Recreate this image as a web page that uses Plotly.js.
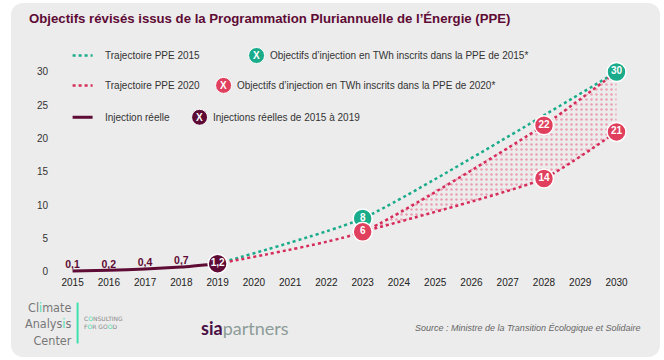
<!DOCTYPE html>
<html><head><meta charset="utf-8">
<script src="https://cdn.plot.ly/plotly-3.0.1.min.js"></script>
<style>
html,body{margin:0;padding:0;background:#fff;}
#card{position:absolute;left:11px;top:3px;width:649px;height:354px;background:#ececec;border-radius:12px;}
#chart{position:absolute;left:0;top:0;width:664px;height:360px;}
</style></head>
<body><div id="card"></div><div id="chart"></div>
<script>
// ---- data ----
const years = [2015,2016,2017,2018,2019,2020,2021,2022,2023,2024,2025,2026,2027,2028,2029,2030];
const realYears = [2015,2016,2017,2018,2019];
const realValues = [0.1,0.2,0.4,0.7,1.2];
const realLabels = ['0,1','0,2','0,4','0,7','1,2'];
const ppe2015Years = [2019,2023,2030];
const ppe2015Values = [1.2,8,30];
const ppe2015Labels = ['8','30'];
const ppe2020HighYears = [2019,2023,2028,2030];
const ppe2020HighValues = [1.2,6,22,30];
const ppe2020LowYears = [2023,2028,2030];
const ppe2020LowValues = [6,14,21];
const ppe2020Labels = ['6','22','14','21'];
const yTicks = [0,5,10,15,20,25,30];

const GREEN='#1aab8a', RED='#e0405e', REDLINE='#d62c5a', DARK='#5e0b35';
const FONT='Arial, sans-serif';

// plot area geometry (px)
const L=49.4, W=582.1, T=51.5, H=223.8;
const px=x=>(x-L)/W, py=y=>(T+H-y)/H;

const traces = [
  {x:ppe2020HighYears.slice(1), y:ppe2020HighValues.slice(1), mode:'lines', line:{width:0, shape:'spline', smoothing:0.5}, hoverinfo:'skip', showlegend:false},
  {x:ppe2020LowYears, y:ppe2020LowValues, mode:'lines', line:{width:0, shape:'spline', smoothing:0.5}, fill:'tonexty', fillcolor:'rgba(0,0,0,0)',
   fillpattern:{shape:'.', fgcolor:'#eba0b2', bgcolor:'rgba(0,0,0,0)', size:5, solidity:0.2}, hoverinfo:'skip', showlegend:false},
  {x:ppe2015Years, y:ppe2015Values, mode:'lines', line:{color:GREEN, width:2.5, dash:'dot', shape:'spline', smoothing:0.5}, showlegend:false},
  {x:ppe2020HighYears, y:ppe2020HighValues, mode:'lines', line:{color:REDLINE, width:2.5, dash:'dot', shape:'spline', smoothing:0.5}, showlegend:false},
  {x:ppe2020LowYears, y:ppe2020LowValues, mode:'lines', line:{color:REDLINE, width:2.5, dash:'dot', shape:'spline', smoothing:0.5}, showlegend:false},
  {x:realYears, y:realValues, mode:'lines+text', line:{color:DARK, width:3, shape:'spline', smoothing:0.5},
   text:realLabels.slice(0,4).concat(['']), textposition:'top center', textfont:{family:FONT, size:10.5, color:DARK, weight:'bold'}, showlegend:false},
  {x:[realYears[4]], y:[realValues[4]], mode:'markers+text', marker:{size:19, color:DARK, line:{color:'#fff', width:1.5}},
   text:[realLabels[4]], textposition:'middle center', textfont:{family:FONT, size:10, color:'#fff', weight:'bold'}, showlegend:false},
  {x:ppe2015Years.slice(1), y:ppe2015Values.slice(1), mode:'markers+text', marker:{size:19, color:GREEN, line:{color:'#fff', width:1.5}},
   text:ppe2015Labels, textposition:'middle center', textfont:{family:FONT, size:10, color:'#fff', weight:'bold'}, showlegend:false},
  {x:[ppe2020HighYears[1], ppe2020HighYears[2], ppe2020LowYears[1], ppe2020LowYears[2]],
   y:[ppe2020HighValues[1], ppe2020HighValues[2], ppe2020LowValues[1], ppe2020LowValues[2]], mode:'markers+text', marker:{size:19, color:RED, line:{color:'#fff', width:1.5}},
   text:ppe2020Labels, textposition:'middle center', textfont:{family:FONT, size:10, color:'#fff', weight:'bold'}, showlegend:false}
];

const shapes = [];
const annotations = [];
const legRows = [
  {y:55, dash:'dot', color:GREEN, label:'Trajectoire PPE 2015', cx:257, ccol:GREEN, ctext:'Objectifs d\u2019injection en TWh inscrits dans la PPE de 2015*'},
  {y:85, dash:'dot', color:REDLINE, label:'Trajectoire PPE 2020', cx:224, ccol:RED, ctext:'Objectifs d\u2019injection en TWh inscrits dans la PPE de 2020*'},
  {y:117, dash:'solid', color:DARK, label:'Injection r\u00e9elle', cx:200, ccol:DARK, ctext:'Injections r\u00e9elles de 2015 \u00e0 2019'}
];
legRows.forEach(r=>{
  shapes.push({type:'line', xref:'paper', yref:'paper', x0:px(73), x1:px(93), y0:py(r.y), y1:py(r.y), line:{color:r.color, width:r.dash==='dot'?2.5:3, dash:r.dash}});
  annotations.push({xref:'paper', yref:'paper', x:px(103), y:py(r.y), xanchor:'left', yanchor:'middle', showarrow:false, text:r.label, font:{family:FONT, size:10, color:'#333'}});
  shapes.push({type:'circle', xref:'paper', yref:'paper', xsizemode:'pixel', ysizemode:'pixel', xanchor:px(r.cx), yanchor:py(r.y), x0:-8, x1:8, y0:-8, y1:8, fillcolor:r.ccol, line:{color:'#fff', width:1}});
  annotations.push({xref:'paper', yref:'paper', x:px(r.cx), y:py(r.y), xanchor:'center', yanchor:'middle', showarrow:false, text:'<b>X</b>', font:{family:FONT, size:10, color:'#fff'}});
  annotations.push({xref:'paper', yref:'paper', x:px(r.cx+11), y:py(r.y), xanchor:'left', yanchor:'middle', showarrow:false, text:r.ctext, font:{family:FONT, size:10, color:'#333'}});
});
const NARROW='"DejaVu Sans Condensed", "Liberation Sans Narrow", Roboto, sans-serif';
annotations.push({xref:'paper', yref:'paper', x:px(73), y:py(324), xanchor:'right', yanchor:'middle', align:'right', showarrow:false, borderpad:0,
  text:'Cl<span style="color:#3fdcad">i</span>mate<br>Analys<span style="color:#3fdcad">i</span>s<br>Center', font:{family:NARROW, size:12.5, color:'#777'}});
shapes.push({type:'line', xref:'paper', yref:'paper', x0:px(78), x1:px(78), y0:py(303), y1:py(344), line:{color:'#3fe0b0', width:2}});
annotations.push({xref:'paper', yref:'paper', x:px(83), y:py(322.5), xanchor:'left', yanchor:'middle', align:'left', showarrow:false, borderpad:0,
  text:'C<span style="color:#3fdcad">O</span>NSULTING<br>F<span style="color:#3fdcad">O</span>R GO<span style="color:#3fdcad">O</span>D', font:{family:'DejaVu Sans, sans-serif', size:6, color:'#888'}});
annotations.push({xref:'paper', yref:'paper', x:px(199), y:py(328), xanchor:'left', yanchor:'middle', showarrow:false,
  text:'<b><span style="color:#4a1045">sia</span></b><span style="color:#8c9c98">partners</span>', font:{family:'Lato, sans-serif', size:18}});
annotations.push({xref:'paper', yref:'paper', x:px(643), y:py(328), xanchor:'right', yanchor:'middle', showarrow:false,
  text:'<i>Source : Ministre de la Transition \u00c9cologique et Solidaire</i>', font:{family:FONT, size:9, color:'#666'}});

const layout = {
  width:664, height:360,
  margin:{l:L, r:664-L-W, t:T, b:360-T-H, pad:0},
  paper_bgcolor:'rgba(0,0,0,0)', plot_bgcolor:'rgba(0,0,0,0)',
  title:{text:'<b>Objectifs r\u00e9vis\u00e9s issus de la Programmation Pluriannuelle de l\u2019\u00c9nergie (PPE)</b>', x:29/664, xanchor:'left', xref:'container', y:1-18/360, yanchor:'middle', yref:'container',
    font:{family:FONT, size:13.2, color:DARK}},
  xaxis:{range:[2014.35,2030.4], tickvals:years, ticktext:years.map(String), showgrid:false, zeroline:false, showline:false, ticks:'',
    tickfont:{family:FONT, size:10, color:'#222'}, fixedrange:true},
  yaxis:{range:[-0.5,33], tickvals:yTicks, ticktext:yTicks.map(String), showgrid:false, zeroline:false, showline:false, ticks:'',
    tickfont:{family:FONT, size:10, color:'#333'}, fixedrange:true},
  shapes:shapes, annotations:annotations, showlegend:false
};
Plotly.newPlot('chart', traces, layout, {displayModeBar:false, staticPlot:true});
</script></body></html>
